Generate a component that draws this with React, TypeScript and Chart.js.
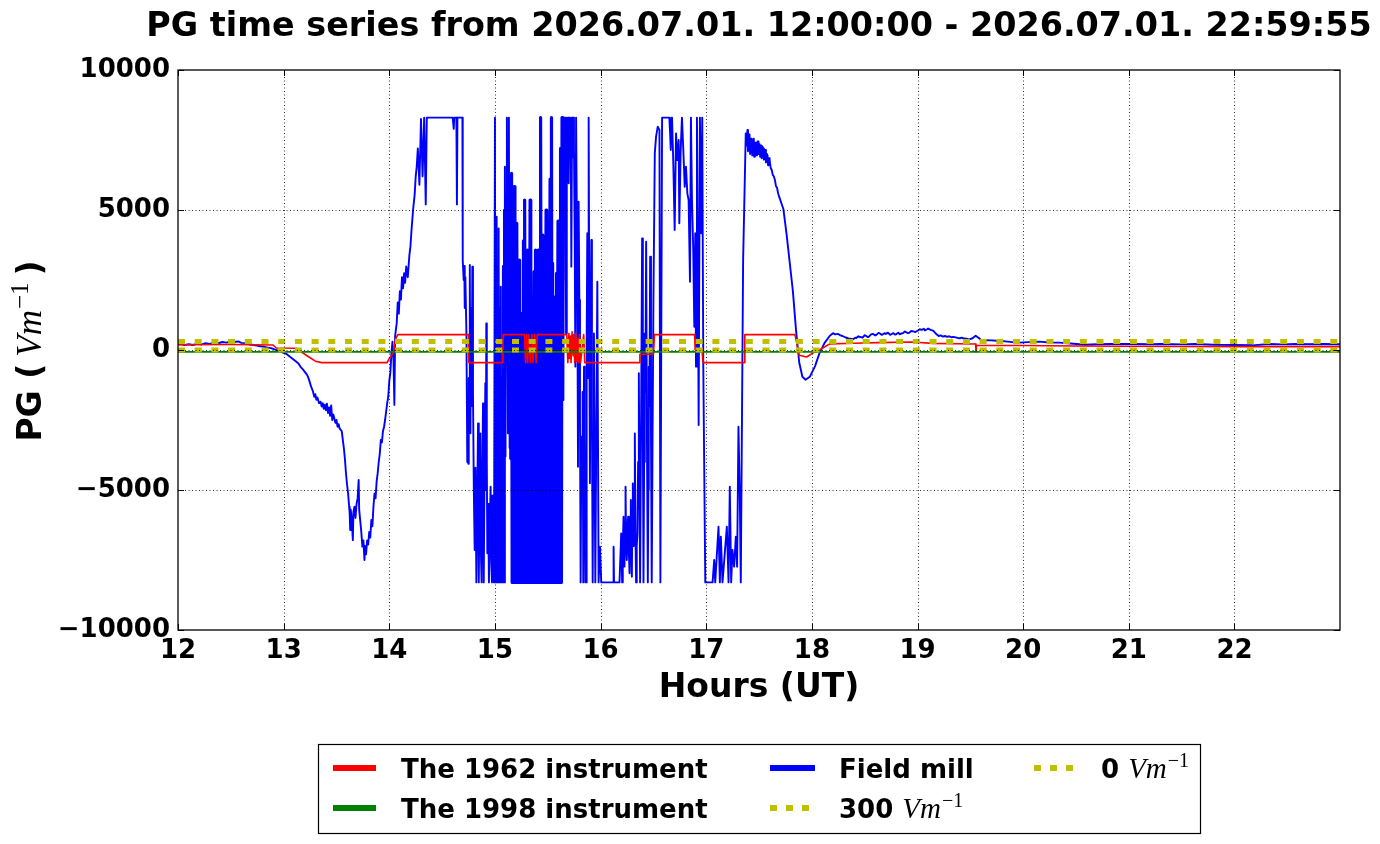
import React, { useEffect, useRef } from "react";
import { Chart, registerables, Plugin } from "chart.js";

Chart.register(...registerables);

// ---- chart content ----
const TITLE = "PG time series from 2026.07.01. 12:00:00 - 2026.07.01. 22:59:55";
const X_LABEL = "Hours (UT)";
const X_MIN = 12;
const X_MAX = 22.9986;
const X_TICKS = [12, 13, 14, 15, 16, 17, 18, 19, 20, 21, 22];
const Y_MIN = -10000;
const Y_MAX = 10000;
const Y_TICKS = [-10000, -5000, 0, 5000, 10000];

// [hour, V/m]
const FIELD_MILL: [number, number][] = [
  [12.0, 190], [12.03, 215], [12.06, 175], [12.1, 205], [12.14, 180], [12.18, 220], [12.22, 195], [12.26, 245],
  [12.3, 220], [12.34, 265], [12.38, 240], [12.42, 285], [12.46, 265], [12.5, 315], [12.53, 285], [12.57, 305],
  [12.6, 255], [12.64, 245], [12.68, 195], [12.72, 180], [12.76, 145], [12.8, 125], [12.84, 95], [12.88, 65],
  [12.92, 15], [12.96, -40], [13.0, -100], [13.03, -150], [13.06, -240], [13.09, -330], [13.12, -420],
  [13.14, -480], [13.16, -600], [13.18, -680], [13.2, -780], [13.22, -880], [13.23, -950], [13.245, -1120],
  [13.26, -1310], [13.275, -1450], [13.29, -1670], [13.3, -1580], [13.31, -1780], [13.32, -1700], [13.335, -1900],
  [13.35, -1850], [13.36, -2020], [13.37, -1900], [13.38, -2100], [13.39, -1950], [13.4, -2150], [13.41, -1920],
  [13.42, -2250], [13.43, -2050], [13.44, -2350], [13.45, -1980], [13.46, -2500], [13.47, -2300], [13.48, -2450],
  [13.49, -2600], [13.5, -2500], [13.51, -2740], [13.52, -2650], [13.53, -2800], [13.55, -2900], [13.56, -3210],
  [13.57, -3500], [13.58, -3900], [13.59, -4400], [13.6, -4800], [13.61, -5120], [13.62, -5600], [13.625, -5830],
  [13.63, -6430], [13.635, -5700], [13.645, -6100], [13.655, -6790], [13.66, -5800], [13.67, -5600], [13.68, -6000],
  [13.69, -5500], [13.7, -5300], [13.71, -4640], [13.715, -5700], [13.725, -6100], [13.735, -6500], [13.745, -7020],
  [13.755, -6800], [13.765, -7500], [13.77, -7000], [13.78, -7300], [13.79, -6800], [13.8, -6950], [13.81, -6500],
  [13.82, -6700], [13.83, -6070], [13.84, -6300], [13.85, -5600], [13.86, -5120], [13.87, -5300], [13.88, -4700],
  [13.89, -4400], [13.9, -4000], [13.91, -3700], [13.92, -3210], [13.93, -3300], [13.94, -2900], [13.95, -2750],
  [13.96, -2500], [13.97, -2200], [13.98, -1900], [13.99, -1670], [14.0, -1100], [14.01, -800], [14.02, -120],
  [14.03, 300], [14.04, -400], [14.048, -1960], [14.055, 500], [14.07, 950], [14.08, 1700], [14.09, 1300],
  [14.1, 2100], [14.11, 1800], [14.12, 2600], [14.13, 2200], [14.14, 2740], [14.15, 2400], [14.16, 2980],
  [14.175, 2600], [14.19, 3380], [14.2, 3700], [14.21, 4270], [14.225, 5000], [14.24, 5550], [14.25, 6200],
  [14.26, 6570], [14.27, 7200], [14.285, 5900], [14.3, 8250], [14.315, 6200], [14.33, 8300], [14.345, 5200],
  [14.355, 8300], [14.6, 8300], [14.61, 7900], [14.615, 8300], [14.635, 8300], [14.64, 5200], [14.645, 8300],
  [14.692, 8300], [14.695, 3200], [14.704, 2500], [14.71, 3000], [14.714, 1500], [14.72, 2600], [14.73, 595],
  [14.738, -4000], [14.742, -2500], [14.748, -4060], [14.752, -1000], [14.755, -1500], [14.762, 3036],
  [14.768, -2976], [14.774, 1500], [14.78, -2000], [14.786, 2976], [14.792, -1500], [14.8, -5000], [14.808, -7143],
  [14.816, -4200], [14.824, -8300], [14.832, -5600], [14.84, -2619], [14.845, -7000], [14.849, -8300],
  [14.856, -4300], [14.862, -2976], [14.868, -7400], [14.874, -8300], [14.88, -4600], [14.887, -1905],
  [14.892, -6200], [14.896, -8300], [14.903, -3500], [14.909, -1190], [14.914, -5000], [14.918, 952],
  [14.923, -4000], [14.928, -7262], [14.936, -5500], [14.943, -8300], [14.95, -6400], [14.959, -4881],
  [14.965, -7600], [14.972, -8300], [14.977, -5200], [14.981, -6071], [14.986, -7800], [14.991, -8300],
  [15.0, 8300], [15.004, -8300], [15.008, -2976], [15.012, -8300], [15.016, 4762], [15.021, -8300], [15.026, 3000],
  [15.031, -8300], [15.035, 4345], [15.04, -8300], [15.045, 1500], [15.05, -8300], [15.055, 2262], [15.06, -8300],
  [15.065, -1000], [15.07, -8300], [15.075, 3000], [15.08, -8300], [15.085, 5000], [15.09, -8300], [15.094, 6548],
  [15.1, -3800], [15.106, 5500], [15.113, 8300], [15.118, 2000], [15.123, -2976], [15.128, 6000], [15.132, 8300],
  [15.139, -3500], [15.145, 4000], [15.15, -3900], [15.157, 6310], [15.163, -8300], [15.167, -1500], [15.17, 2100],
  [15.176, -8300], [15.179, 3400],
  [15.182, 5833], [15.189, -8300], [15.192, -3000], [15.195, 700], [15.201, -8300], [15.205, 2600], [15.208, 4524],
  [15.214, -8300], [15.217, -500], [15.22, 1900], [15.226, -8300], [15.229, 900], [15.233, 3214], [15.239, -8300],
  [15.242, -4000], [15.245, -1200], [15.251, -8300], [15.254, -2500], [15.258, 1310], [15.264, -8300],
  [15.267, 1000], [15.27, 3900], [15.276, -8300], [15.279, 2500], [15.283, 5357], [15.289, -8300], [15.292, -2000],
  [15.296, 800], [15.302, -8300], [15.305, 1200], [15.308, 3571], [15.314, -8300], [15.317, -800], [15.321, 2500],
  [15.327, -8300], [15.33, 1800], [15.333, 5357], [15.339, -8300], [15.342, -3600], [15.346, -500], [15.352, -8300],
  [15.355, -1500], [15.358, 1548], [15.364, -8300], [15.367, 400], [15.371, 2800], [15.377, -8300], [15.38, 1000],
  [15.384, 3571], [15.39, -8300], [15.393, -2200], [15.396, 1200], [15.402, -8300], [15.405, 600], [15.409, 3571],
  [15.415, -8300], [15.418, -1000], [15.421, 2200], [15.427, -8300], [15.43, 4000], [15.434, 8300], [15.44, -8300],
  [15.443, 1300], [15.447, 4100], [15.453, -8300], [15.456, -2800], [15.459, 595], [15.466, -8300], [15.469, -300],
  [15.472, 2300], [15.478, -8300], [15.481, 1600], [15.484, 5000], [15.49, -8300], [15.493, -1800], [15.497, 1400],
  [15.503, -8300], [15.506, -600], [15.509, 2262], [15.515, -8300], [15.518, 2000], [15.522, 6100], [15.528, -8300],
  [15.531, 3500], [15.535, 8300], [15.541, -8300], [15.544, -500], [15.547, 3100], [15.553, -8300], [15.556, -2600],
  [15.56, 833], [15.566, -8300], [15.569, -1000], [15.572, 1900], [15.578, -8300], [15.581, 400], [15.585, 2738],
  [15.591, -8300], [15.594, 1500], [15.597, 4600], [15.603, -8300], [15.606, 500], [15.61, 3810], [15.616, -8300],
  [15.619, 3000], [15.623, 7200], [15.629, -8300],
  [15.635, 8300], [15.642, 2500], [15.648, -1786], [15.654, 8300], [15.66, 6400], [15.666, 8300], [15.673, 595],
  [15.68, 8300], [15.686, 7000], [15.692, 8300], [15.698, 5952], [15.705, 8300], [15.711, 7600], [15.717, 8300],
  [15.723, 2976], [15.73, 8300], [15.736, 6900], [15.742, 8300], [15.748, 7143], [15.755, 3900], [15.761, -595],
  [15.768, 8300], [15.774, 8300], [15.78, 2200], [15.786, -4167], [15.792, 5300], [15.799, 1786], [15.805, -2500],
  [15.811, -8300], [15.818, -3100], [15.824, -5357], [15.83, -1500], [15.836, -8300], [15.843, -600],
  [15.849, -2976], [15.856, -8300], [15.862, -8300], [15.868, 200], [15.874, 4167], [15.881, -1000], [15.887, 8300],
  [15.893, 1200], [15.899, -4762], [15.906, 900], [15.912, 3929], [15.918, -2200], [15.925, -8300], [15.931, -3500],
  [15.937, 595], [15.944, -4400], [15.95, -8300], [15.969, 2440], [15.981, -8300], [15.994, -7024], [16.006, -8300],
  [16.12, -8300], [16.123, -7024], [16.127, -8300], [16.179, -8300], [16.195, -6548], [16.204, -8300],
  [16.21, -7100], [16.217, -5952], [16.226, -7738], [16.231, -6200], [16.236, -4881], [16.242, -7000],
  [16.248, -7500], [16.255, -6300], [16.261, -5952], [16.268, -7300], [16.274, -7976], [16.28, -6400],
  [16.286, -5357], [16.291, -7200], [16.296, -8095], [16.3, -6000], [16.305, -4762], [16.31, -7000],
  [16.314, -6548], [16.319, -5000], [16.324, -2976], [16.33, -6500], [16.336, -8300], [16.342, -7000],
  [16.349, -6548], [16.355, -4000], [16.362, -833], [16.368, -5000], [16.374, -8300], [16.384, -2000],
  [16.393, 3988], [16.4, -3000], [16.406, -8300], [16.412, -4000], [16.418, 595], [16.424, -1500], [16.431, 3869],
  [16.44, -4000], [16.447, -8300], [16.452, -5000], [16.456, -595], [16.462, -2000], [16.469, 3333], [16.477, -3000],
  [16.484, -8300], [16.492, -3000], [16.5, 1786], [16.513, 7024], [16.525, 7619], [16.541, 7976], [16.557, 7850],
  [16.566, -8300], [16.582, 8300], [16.651, 8300], [16.658, 7738], [16.664, 7143], [16.67, 8300], [16.676, 8300],
  [16.689, 6548], [16.701, 4286], [16.714, 7738], [16.726, 6786], [16.739, 7500], [16.745, 4524], [16.758, 7143],
  [16.77, 8300], [16.783, 7143], [16.796, 5833], [16.808, 6548], [16.821, 5595], [16.833, 5357], [16.846, 2440],
  [16.855, 8300], [16.865, 5357], [16.877, 3571], [16.887, 833], [16.896, 4167], [16.903, -595], [16.912, 8300],
  [16.921, 2976], [16.928, -2678], [16.94, 8300], [16.953, 4167], [16.962, 8300], [16.972, -595], [16.991, -8300],
  [17.06, -8300], [17.075, -7500], [17.085, -8300], [17.116, -6310], [17.129, -8300], [17.138, -6667],
  [17.154, -8300], [17.195, -6310], [17.211, -8300], [17.223, -4881], [17.236, -8300], [17.248, -7143],
  [17.264, -7738], [17.28, -6667], [17.292, -7738], [17.305, -2738], [17.318, -5357], [17.327, -8300],
  [17.349, 3214], [17.374, 7738], [17.38, 7300], [17.39, 7857], [17.395, 7100], [17.4, 7300], [17.405, 7700],
  [17.41, 7650], [17.415, 7000], [17.42, 7000], [17.425, 7550], [17.43, 7500], [17.435, 6950], [17.44, 7143],
  [17.445, 7500], [17.45, 7550], [17.455, 6900], [17.46, 6950], [17.465, 7400], [17.47, 7381], [17.475, 6950],
  [17.48, 7100], [17.485, 7450], [17.49, 7450], [17.495, 7000], [17.5, 7262], [17.505, 7350], [17.51, 6900],
  [17.515, 7250], [17.52, 7300], [17.525, 6850], [17.53, 7024], [17.535, 7250], [17.54, 7200], [17.545, 6800],
  [17.55, 6850], [17.555, 7150], [17.56, 7143], [17.565, 6700], [17.57, 6800], [17.575, 7000], [17.58, 6950],
  [17.585, 6600], [17.59, 6700], [17.595, 6850], [17.6, 6786], [17.61, 6500], [17.62, 6429], [17.63, 6250],
  [17.64, 6200], [17.65, 6071], [17.66, 5850], [17.67, 5800], [17.68, 5600], [17.69, 5476], [17.73, 5038],
  [17.76, 4145], [17.79, 3125], [17.82, 2104], [17.85, 700], [17.88, -446], [17.91, -957], [17.94, -1060],
  [17.98, -957], [18.03, -574], [18.07, -128], [18.12, 255], [18.17, 510], [18.2, 600], [18.22, 560], [18.25, 574],
  [18.27, 520], [18.29, 500], [18.32, 446], [18.34, 420], [18.36, 400], [18.39, 383], [18.41, 440], [18.42, 430],
  [18.44, 490], [18.45, 472], [18.48, 440], [18.5, 530], [18.51, 510], [18.53, 460], [18.54, 480], [18.56, 560],
  [18.58, 574], [18.6, 520], [18.61, 540], [18.63, 610], [18.64, 600], [18.66, 540], [18.67, 560], [18.69, 600],
  [18.7, 574], [18.72, 620], [18.74, 540], [18.76, 580], [18.77, 600], [18.79, 550], [18.8, 570], [18.82, 620],
  [18.83, 560], [18.85, 590], [18.86, 600], [18.88, 660], [18.89, 638], [18.91, 600], [18.92, 610], [18.94, 680],
  [18.96, 663], [18.98, 640], [19.0, 690], [19.02, 740], [19.04, 720], [19.06, 760], [19.07, 700], [19.09, 740],
  [19.1, 765], [19.12, 730], [19.13, 714], [19.15, 680], [19.18, 560], [19.2, 500], [19.22, 520], [19.24, 480],
  [19.26, 500], [19.28, 470], [19.3, 490], [19.32, 455], [19.34, 470], [19.36, 452], [19.38, 430], [19.4, 421],
  [19.42, 440], [19.44, 410], [19.47, 400], [19.49, 381], [19.52, 420], [19.55, 510], [19.58, 430], [19.6, 357],
  [19.65, 350], [19.7, 344], [19.75, 330], [19.8, 319], [19.85, 300], [19.9, 281], [19.96, 262], [20.05, 280],
  [20.15, 298], [20.25, 270], [20.34, 262], [20.45, 230], [20.59, 190], [20.7, 205], [20.84, 214], [21.03, 214],
  [21.2, 205], [21.32, 214], [21.5, 200], [21.63, 214], [21.8, 190], [22.0, 179], [22.17, 167], [22.33, 214],
  [22.45, 200], [22.58, 214], [22.7, 205], [22.83, 214], [22.9986, 205],
];

const INSTR_1962: [number, number][] = [
  [12.0, 190], [12.5, 195], [12.9, 180], [12.93, 70], [13.12, 60], [13.18, -100], [13.24, -250], [13.3, -400],
  [13.36, -450], [13.98, -450], [14.0, -300], [14.03, -150], [14.04, -50], [14.06, 400], [14.08, 550], [14.75, 550],
  [14.752, -450], [15.075, -450], [15.077, 550], [15.28, 550], [15.29, -450], [15.3, 550], [15.31, -450],
  [15.32, 550], [15.335, -450], [15.35, 550], [15.36, -450], [15.375, 550], [15.39, -450], [15.4, 550], [15.68, 550],
  [15.69, -450], [15.7, 600], [15.705, -300], [15.715, 500], [15.72, -450], [15.73, 650], [15.74, -200],
  [15.745, 550], [15.755, -450], [15.765, 600], [15.775, -400], [15.785, 400], [15.79, -450], [15.8, 550],
  [15.81, -450], [15.84, 550], [15.85, -450], [16.37, -450], [16.372, -150], [16.5, -150], [16.51, 550],
  [16.89, 550], [16.895, 0], [16.96, 0], [16.97, -450], [17.36, -450], [17.365, 550], [17.84, 550], [17.88, -190],
  [17.95, -250], [18.0, -130], [18.07, 0], [18.17, 217], [18.4, 240], [18.63, 262], [18.95, 286], [19.14, 238],
  [19.55, 214], [19.553, -60], [19.558, 167], [20.0, 160], [20.5, 143], [21.0, 135], [21.5, 125], [22.0, 119],
  [22.9986, 119],
];

const INSTR_1998: [number, number][] = [[12.0, -70], [22.9986, -70]];
const LEVEL_300: [number, number][] = [[12.0, 300], [22.9986, 300]];
const LEVEL_0: [number, number][] = [[12.0, 0], [22.9986, 0]];

// the burst of saturated swings is stroked heavier so it reads as a solid band
const BURST_FROM = 15.15;
const BURST_TO = 15.64;

const RED = "#ff0000";
const GREEN = "#008000";
const BLUE = "#0000ff";
const OLIVE = "#bfbf00";
const SANS = '"DejaVu Sans", sans-serif';
const SERIF = '"Liberation Serif", "DejaVu Serif", serif';

const toXY = (rows: [number, number][]) => rows.map(([x, y]) => ({ x, y }));

// "Vm^-1" in math style, returns drawn width
function drawVm(ctx: CanvasRenderingContext2D, x: number, y: number, size: number): number {
  ctx.font = `italic ${size}px ${SERIF}`;
  ctx.fillText("Vm", x, y);
  let w = ctx.measureText("Vm").width + 1;
  const sup = Math.round(size * 0.7);
  ctx.font = `${sup}px ${SERIF}`;
  ctx.fillText("\u22121", x + w, y - size * 0.38);
  w += ctx.measureText("\u22121").width;
  return w;
}

function measureVm(ctx: CanvasRenderingContext2D, size: number): number {
  ctx.font = `italic ${size}px ${SERIF}`;
  let w = ctx.measureText("Vm").width + 1;
  ctx.font = `${Math.round(size * 0.7)}px ${SERIF}`;
  w += ctx.measureText("\u22121").width;
  return w;
}

const decor: Plugin<"line"> = {
  id: "decor",
  afterDatasetsDraw(chart) {
    const { ctx, chartArea: a, scales } = chart;
    const xs = scales.x, ys = scales.y;
    ctx.save();
    // dotted grid on top of the lines (classic style)
    ctx.strokeStyle = "rgba(0,0,0,0.8)";
    ctx.lineWidth = 1;
    ctx.setLineDash([1, 2.5]);
    X_TICKS.slice(1).forEach((v) => {
      const px = Math.round(xs.getPixelForValue(v)) + 0.5;
      ctx.beginPath(); ctx.moveTo(px, a.top); ctx.lineTo(px, a.bottom); ctx.stroke();
    });
    Y_TICKS.slice(1, -1).forEach((v) => {
      const py = Math.round(ys.getPixelForValue(v)) + 0.5;
      ctx.beginPath(); ctx.moveTo(a.left, py); ctx.lineTo(a.right, py); ctx.stroke();
    });
    ctx.setLineDash([]);
    // inward tick marks on all four sides
    ctx.strokeStyle = "#000";
    ctx.lineWidth = 1;
    const tl = 6;
    X_TICKS.forEach((v) => {
      const px = Math.round(xs.getPixelForValue(v)) + 0.5;
      ctx.beginPath();
      ctx.moveTo(px, a.bottom); ctx.lineTo(px, a.bottom - tl);
      ctx.moveTo(px, a.top); ctx.lineTo(px, a.top + tl);
      ctx.stroke();
    });
    Y_TICKS.forEach((v) => {
      const py = Math.round(ys.getPixelForValue(v)) + 0.5;
      ctx.beginPath();
      ctx.moveTo(a.left, py); ctx.lineTo(a.left + tl, py);
      ctx.moveTo(a.right, py); ctx.lineTo(a.right - tl, py);
      ctx.stroke();
    });
    // frame
    ctx.lineWidth = 1.3;
    ctx.strokeRect(a.left, a.top, a.right - a.left, a.bottom - a.top);
    ctx.restore();
  },
  afterDraw(chart) {
    const { ctx, chartArea: a } = chart;
    const cx = (a.left + a.right) / 2;
    ctx.save();
    ctx.fillStyle = "#000";
    ctx.textBaseline = "alphabetic";

    // title
    ctx.font = `bold 33.4px ${SANS}`;
    ctx.textAlign = "center";
    ctx.fillText(TITLE, cx, 36);

    // x label
    ctx.font = `bold 33px ${SANS}`;
    ctx.fillText(X_LABEL, cx, 697);

    // y label: PG ( Vm^-1 )
    ctx.textAlign = "left";
    const ys = 33;
    const ms = 35;
    ctx.font = `bold ${ys}px ${SANS}`;
    const wA = ctx.measureText("PG (").width;
    const wB = measureVm(ctx, ms);
    ctx.font = `bold ${ys}px ${SANS}`;
    const wC = ctx.measureText(")").width;
    const gap = 7;
    const total = wA + gap + wB + gap + wC;
    ctx.translate(41, (a.top + a.bottom) / 2 + 1);
    ctx.rotate(-Math.PI / 2);
    let px = -total / 2;
    ctx.fillText("PG (", px, 0);
    px += wA + gap;
    px += drawVm(ctx, px, 0, ms);
    px += gap;
    ctx.font = `bold ${ys}px ${SANS}`;
    ctx.fillText(")", px, 0);
    ctx.setTransform(1, 0, 0, 1, 0, 0);
    const dpr = chart.currentDevicePixelRatio || 1;
    ctx.scale(dpr, dpr);

    // legend
    ctx.strokeStyle = "#000";
    ctx.lineWidth = 1.2;
    ctx.strokeRect(318.5, 744.5, 882, 89);
    const rows = [768, 808];
    const items: { col: number; row: number; color: string; dotted: boolean; label: string; math: boolean }[] = [
      { col: 0, row: 0, color: RED, dotted: false, label: "The 1962 instrument", math: false },
      { col: 0, row: 1, color: GREEN, dotted: false, label: "The 1998 instrument", math: false },
      { col: 1, row: 0, color: BLUE, dotted: false, label: "Field mill", math: false },
      { col: 1, row: 1, color: OLIVE, dotted: true, label: "300 ", math: true },
      { col: 2, row: 0, color: OLIVE, dotted: true, label: "0 ", math: true },
    ];
    const handleX = [[333, 376], [770, 815], [1034, 1074]];
    const textX = [401, 839, 1101];
    items.forEach((it) => {
      const y = rows[it.row];
      const [h0, h1] = handleX[it.col];
      ctx.strokeStyle = it.color;
      ctx.lineWidth = 6;
      ctx.setLineDash(it.dotted ? [7, 9] : []);
      ctx.beginPath(); ctx.moveTo(h0, y); ctx.lineTo(h1, y); ctx.stroke();
      ctx.setLineDash([]);
      ctx.fillStyle = "#000";
      ctx.font = `bold 26px ${SANS}`;
      ctx.fillText(it.label, textX[it.col], y + 10);
      if (it.math) {
        const w = ctx.measureText(it.label).width;
        drawVm(ctx, textX[it.col] + w, y + 10, 29);
      }
    });
    ctx.restore();
  },
};

export default function App() {
  const canvasRef = useRef<HTMLCanvasElement | null>(null);

  useEffect(() => {
    const ctx = canvasRef.current?.getContext("2d");
    if (!ctx) return;
    const line = (data: [number, number][], color: string, width: number, order: number, dash?: number[]) => ({
      data: toXY(data),
      borderColor: color,
      backgroundColor: color,
      borderWidth: width,
      borderDash: dash,
      pointRadius: 0,
      tension: 0,
      borderJoinStyle: "round" as const,
      borderCapStyle: "butt" as const,
      order,
    });
    const chart = new Chart(ctx, {
      type: "line",
      data: {
        datasets: [
          { label: "The 1962 instrument", ...line(INSTR_1962, RED, 1.6, 4) },
          { label: "The 1998 instrument", ...line(INSTR_1998, GREEN, 1.7, 3) },
          {
            label: "Field mill",
            ...line(FIELD_MILL, BLUE, 1.9, 5),
            segment: {
              borderWidth: (c: any) => {
                const x0 = FIELD_MILL[c.p0DataIndex]?.[0];
                return x0 >= BURST_FROM && x0 <= BURST_TO ? 3.2 : undefined;
              },
            },
          },
          { label: "300", ...line(LEVEL_300, OLIVE, 5, 2, [7, 9.7]) },
          { label: "0", ...line(LEVEL_0, OLIVE, 5, 1, [7, 9.7]) },
        ],
      },
      options: {
        responsive: true,
        maintainAspectRatio: false,
        animation: false,
        parsing: false,
        normalized: true,
        layout: { padding: { left: 0, top: 70, right: 40, bottom: 0 } },
        plugins: { legend: { display: false }, title: { display: false }, tooltip: { enabled: false } },
        scales: {
          x: {
            type: "linear",
            min: X_MIN,
            max: X_MAX,
            afterBuildTicks: (s) => { s.ticks = X_TICKS.map((value) => ({ value })); },
            afterFit: (s) => { s.height = 214; },
            grid: { display: false, drawTicks: false },
            border: { display: false },
            ticks: {
              autoSkip: false,
              maxRotation: 0,
              padding: 6,
              color: "#000",
              font: { family: SANS, size: 26, weight: "bold" },
              callback: (v) => String(v),
            },
          },
          y: {
            type: "linear",
            min: Y_MIN,
            max: Y_MAX,
            afterBuildTicks: (s) => { s.ticks = Y_TICKS.map((value) => ({ value })); },
            afterFit: (s) => { s.width = 178; },
            grid: { display: false, drawTicks: false },
            border: { display: false },
            ticks: {
              padding: 8,
              color: "#000",
              font: { family: SANS, size: 26, weight: "bold" },
              callback: (v) => (Number(v) < 0 ? "\u2212" + Math.abs(Number(v)) : String(v)),
            },
          },
        },
      },
      plugins: [decor],
    });
    return () => { chart.destroy(); };
  }, []);

  return (
    <div style={{ position: "absolute", left: 0, top: 0, width: 1380, height: 844, background: "#fff" }}>
      <canvas ref={canvasRef} />
    </div>
  );
}
